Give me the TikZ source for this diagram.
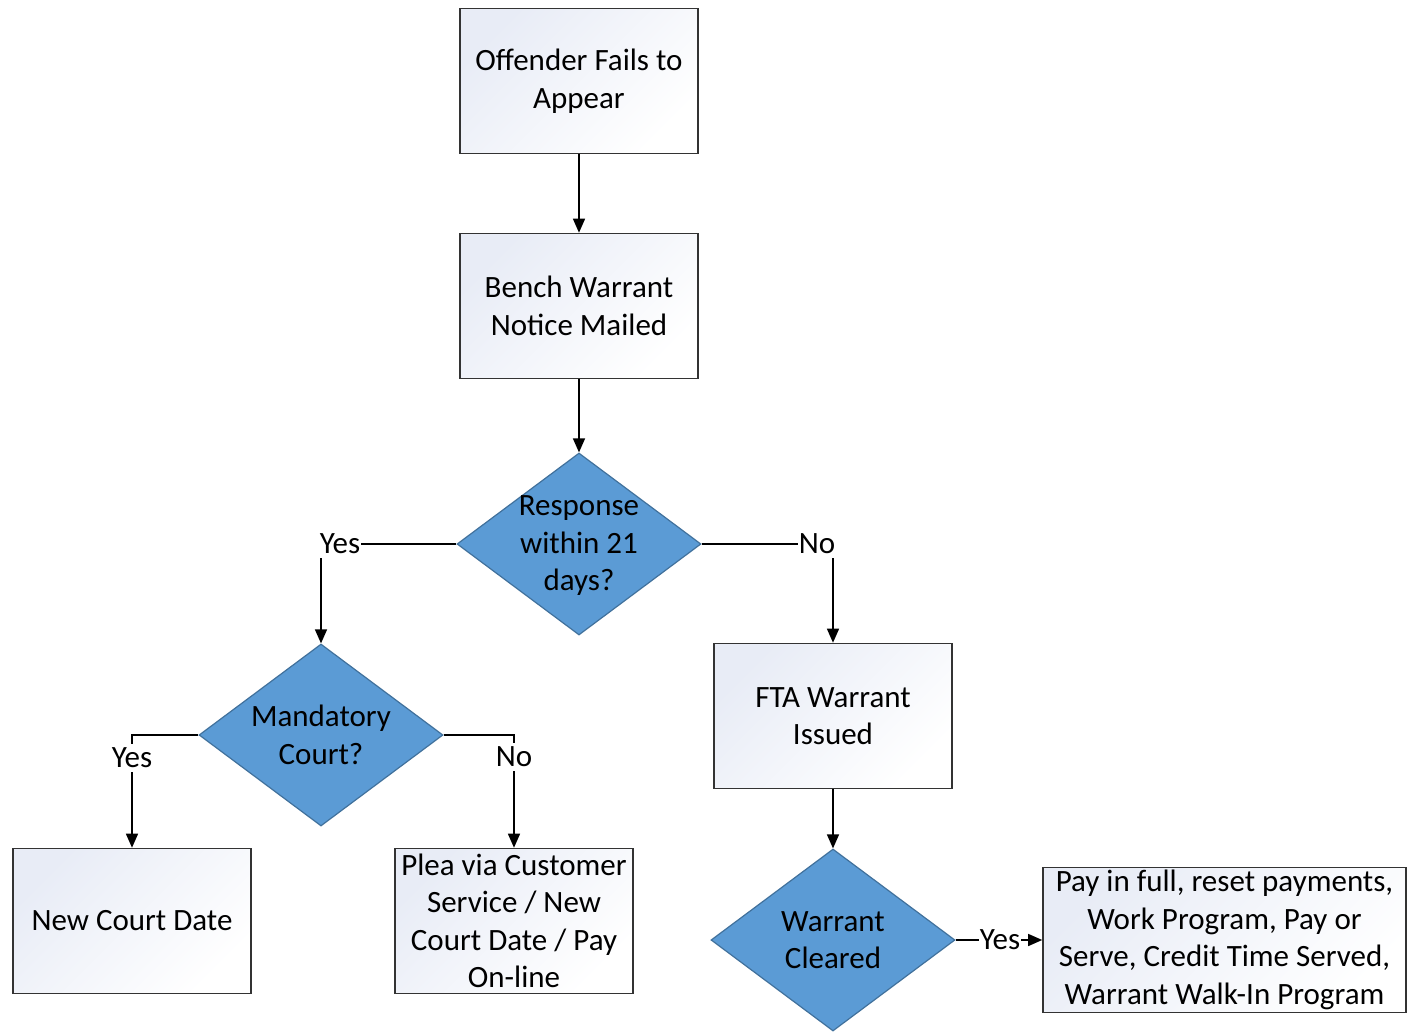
\documentclass[tikz,border=0pt]{standalone}
\usepackage{fontspec}
\setmainfont{Carlito}
\usetikzlibrary{shapes.geometric,arrows.meta}
\definecolor{rombofill}{RGB}{91,155,213}
\definecolor{rombodraw}{RGB}{65,113,156}
\definecolor{cajatono}{RGB}{232,236,246}
\begin{document}
\begin{tikzpicture}[x=0.5pt,y=-0.5pt,
    font=\fontsize{15.5}{18.75}\selectfont,
    caja/.style={rectangle,draw=black!80,line width=0.8pt,top color=cajatono,bottom color=white,shading angle=45,
        minimum width=119pt,minimum height=72.5pt,inner sep=0pt,align=center},
    rombo/.style={diamond,draw=rombodraw,line width=0.6pt,fill=rombofill,
        minimum width=122pt,minimum height=91pt,inner sep=0pt},
    flecha/.style={-{Triangle[length=7pt,width=6pt]},line width=0.7pt},
    etiq/.style={fill=white,inner xsep=0.3pt,inner ysep=2pt}]
    \useasboundingbox (0,0) rectangle (1410,1033);
    % Cajas
    \node[caja] (fails) at (579,81) {Offender Fails to\\Appear};
    \node[caja] (bench) at (579,306) {Bench Warrant\\Notice Mailed};
    \node[caja] (fta) at (833,716) {FTA Warrant\\Issued};
    \node[caja] (newdate) at (132,921) {New Court Date};
    \node[caja] (plea) at (514,921) {Plea via Customer\\Service / New\\Court Date / Pay\\On-line};
    \node[caja,minimum width=181.5pt] (pay) at (1224.5,940) {Pay in full, reset payments,\\Work Program, Pay or\\Serve, Credit Time Served,\\Warrant Walk-In Program};
    % Rombos
    \node[rombo,label={[align=center,yshift=-1pt]center:Response\\within 21\\days?}] (resp) at (579,544) {};
    \node[rombo,label={[align=center]center:Mandatory\\Court?}] (mand) at (321,735) {};
    \node[rombo,label={[align=center]center:Warrant\\Cleared}] (clear) at (833,940) {};
    % Esquinas
    \coordinate (c1) at (321,544);
    \coordinate (c2) at (833,544);
    \coordinate (c3) at (132,735);
    \coordinate (c4) at (514,735);
    % Conectores
    \draw[flecha] (fails) -- (bench);
    \draw[flecha] (bench) -- (resp.north);
    \draw[flecha] (resp.west) -- (c1) -- (mand.north);
    \draw[flecha] (resp.east) -- (c2) -- (fta.north);
    \draw[flecha] (fta) -- (clear.north);
    \draw[flecha] (mand.west) -- (c3) -- (newdate.north);
    \draw[flecha] (mand.east) -- (c4) -- (plea.north);
    \draw[flecha] (clear.east) -- (pay.west);
    % Etiquetas
    \node[etiq] (yes1) at (340,544) {Yes};
    \node[etiq] (no1) at (817,544) {No};
    \node[etiq] (yes2) at (132,758) {Yes};
    \node[etiq] (no2) at (514,757) {No};
    \node[etiq] (yes3) at (1000,940) {Yes};
\end{tikzpicture}
\end{document}
